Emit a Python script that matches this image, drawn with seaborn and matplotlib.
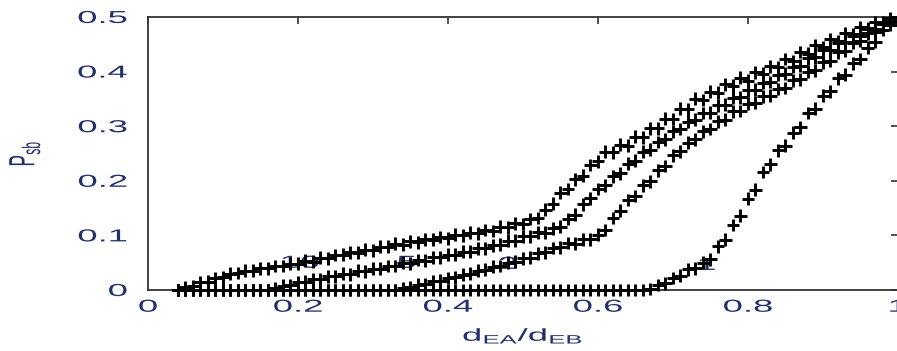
import numpy as np
import pandas as pd
import matplotlib
matplotlib.use("Agg")
import matplotlib.pyplot as plt
import matplotlib.patheffects as pe
from matplotlib.transforms import Affine2D
import seaborn as sns

# values
d_ratio = [0.04, 0.05, 0.06, 0.07, 0.08, 0.09, 0.10, 0.11, 0.12, 0.13,
           0.14, 0.15, 0.16, 0.17, 0.18, 0.19, 0.20, 0.21, 0.22, 0.23,
           0.24, 0.25, 0.26, 0.27, 0.28, 0.29, 0.30, 0.31, 0.32, 0.33,
           0.34, 0.35, 0.36, 0.37, 0.38, 0.39, 0.40, 0.41, 0.42, 0.43,
           0.44, 0.45, 0.46, 0.47, 0.48, 0.49, 0.50, 0.51, 0.52, 0.53,
           0.54, 0.55, 0.56, 0.57, 0.58, 0.59, 0.60, 0.61, 0.62, 0.63,
           0.64, 0.65, 0.66, 0.67, 0.68, 0.69, 0.70, 0.71, 0.72, 0.73,
           0.74, 0.75, 0.76, 0.77, 0.78, 0.79, 0.80, 0.81, 0.82, 0.83,
           0.84, 0.85, 0.86, 0.87, 0.88, 0.89, 0.90, 0.91, 0.92, 0.93,
           0.94, 0.95, 0.96, 0.97, 0.98, 0.99, 1.00]

p_10 = [0.000, 0.005, 0.007, 0.014, 0.015, 0.022, 0.023, 0.030, 0.031, 0.035,
        0.035, 0.040, 0.040, 0.044, 0.044, 0.048, 0.048, 0.054, 0.052, 0.059,
        0.058, 0.064, 0.065, 0.069, 0.068, 0.074, 0.073, 0.079, 0.079, 0.085,
        0.083, 0.089, 0.087, 0.093, 0.092, 0.097, 0.095, 0.101, 0.100, 0.105,
        0.104, 0.110, 0.108, 0.116, 0.115, 0.122, 0.121, 0.130, 0.132, 0.147,
        0.158, 0.178, 0.185, 0.203, 0.209, 0.229, 0.236, 0.253, 0.252, 0.266,
        0.264, 0.281, 0.280, 0.296, 0.296, 0.314, 0.313, 0.332, 0.331, 0.350,
        0.348, 0.363, 0.361, 0.377, 0.374, 0.389, 0.383, 0.399, 0.396, 0.410,
        0.408, 0.423, 0.419, 0.436, 0.433, 0.448, 0.445, 0.459, 0.456, 0.470,
        0.468, 0.481, 0.479, 0.490, 0.489, 0.498, 0.500]

p_5 = [0.0] * 13 + [
    0.003, 0.008, 0.009, 0.014, 0.015, 0.020, 0.020,
    0.025, 0.025, 0.030, 0.029, 0.035, 0.034, 0.039, 0.039, 0.044, 0.044,
    0.050, 0.049, 0.055, 0.054, 0.060, 0.060, 0.065, 0.065, 0.070, 0.070,
    0.076, 0.076, 0.082, 0.083, 0.090, 0.090, 0.098, 0.098, 0.106, 0.105,
    0.113, 0.116, 0.130, 0.138, 0.157, 0.168, 0.185, 0.192, 0.208, 0.214,
    0.231, 0.237, 0.253, 0.257, 0.271, 0.276, 0.291, 0.295, 0.308, 0.312,
    0.324, 0.325, 0.338, 0.339, 0.352, 0.353, 0.366, 0.367, 0.380, 0.381,
    0.394, 0.396, 0.409, 0.411, 0.424, 0.426, 0.439, 0.440, 0.453, 0.454,
    0.466, 0.466, 0.478, 0.478, 0.490, 0.492, 0.500]

p_2 = [0.0] * 30 + [
    0.003, 0.005, 0.010, 0.011, 0.016, 0.017, 0.022, 0.023, 0.028, 0.030,
    0.035, 0.037, 0.043, 0.044, 0.050, 0.052, 0.058, 0.059, 0.067, 0.069,
    0.077, 0.078, 0.086, 0.085, 0.093, 0.093, 0.101, 0.110, 0.132, 0.145,
    0.165, 0.172, 0.192, 0.199, 0.219, 0.227, 0.247, 0.254, 0.270, 0.276,
    0.291, 0.295, 0.309, 0.312, 0.327, 0.328, 0.341, 0.343, 0.355, 0.356,
    0.368, 0.370, 0.384, 0.386, 0.400, 0.402, 0.417, 0.420, 0.435, 0.438,
    0.453, 0.456, 0.470, 0.472, 0.487, 0.490, 0.500]

p_1 = [0.0] * 63 + [
    0.002, 0.009, 0.012, 0.022, 0.026, 0.038, 0.040,
    0.050, 0.056, 0.080, 0.092, 0.119, 0.136, 0.167, 0.184, 0.216, 0.230,
    0.256, 0.264, 0.288, 0.298, 0.324, 0.332, 0.356, 0.364, 0.388, 0.394,
    0.415, 0.423, 0.444, 0.455, 0.476, 0.486, 0.500]

curve_names = ["10", "5", "2", "1"]
curve_label_x = [0.203, 0.345, 0.48, 0.745]
curve_label_y = [0.049, 0.049, 0.047, 0.045]

x_ticks = [0, 0.2, 0.4, 0.6, 0.8, 1.0]
x_tick_labels = ["0", "0.2", "0.4", "0.6", "0.8", "1"]
y_ticks = [0, 0.1, 0.2, 0.3, 0.4, 0.5]
y_tick_labels = ["0", "0.1", "0.2", "0.3", "0.4", "0.5"]

NAVY = "#22306c"


class Stretch(pe.AbstractPathEffect):
    # the reference text looks stretched sideways, so widen the glyph paths
    def __init__(self, sx=1.0, sy=1.0, fx=0.5, fy=0.5):
        super().__init__()
        self.sx, self.sy, self.fx, self.fy = sx, sy, fx, fy

    def draw_path(self, renderer, gc, tpath, affine, rgbFace=None):
        ext = tpath.get_extents()
        cx = ext.x0 + self.fx * ext.width
        cy = ext.y0 + self.fy * ext.height
        pre = Affine2D().translate(-cx, -cy).scale(self.sx, self.sy).translate(cx, cy)
        renderer.draw_path(gc, tpath, pre + affine, rgbFace)


sns.set_style("white")
plt.rcParams["font.family"] = ["Liberation Sans", "DejaVu Sans"]
plt.rcParams["mathtext.default"] = "regular"

df = pd.DataFrame({
    "d": d_ratio * 4,
    "p": p_10 + p_5 + p_2 + p_1,
    "curve": sum([[n] * len(d_ratio) for n in curve_names], []),
})

fig = plt.figure(figsize=(8.97, 3.51), dpi=100)
ax = fig.add_axes([0.165, 0.1738, 0.836, 0.7778])

# curve labels sit under the markers, as in the reference
for name, lx, ly in zip(curve_names, curve_label_x, curve_label_y):
    ax.text(lx, ly, name, color=NAVY, fontsize=12.5, ha="center", va="center",
            zorder=1, path_effects=[Stretch(sx=2.1, fx=0.5)])

sns.scatterplot(data=df, x="d", y="p", hue="curve", palette=["black"] * 4,
                marker="+", s=85, linewidth=2.1, legend=False, ax=ax,
                zorder=3, clip_on=False)

ax.set_xlim(0, 1.0)
ax.set_ylim(0, 0.5)
ax.set_xticks(x_ticks)
ax.set_xticklabels(x_tick_labels)
ax.set_yticks(y_ticks)
ax.set_yticklabels(y_tick_labels)
ax.tick_params(direction="in", top=True, right=True, length=5, width=1.2,
               colors="#333333", labelcolor=NAVY, labelsize=12.5)
ax.tick_params(axis="x", pad=7)
ax.tick_params(axis="y", pad=15)
for lab in ax.get_xticklabels():
    lab.set_path_effects([Stretch(sx=2.1, fx=0.5)])
for lab in ax.get_yticklabels():
    lab.set_path_effects([Stretch(sx=2.1, fx=1.0)])

for side in ["left", "bottom", "top", "right"]:
    ax.spines[side].set_color("#333333")
    ax.spines[side].set_linewidth(1.3)

ax.set_xlabel(r"$d_{EA}/d_{EB}$", fontsize=12.5, color=NAVY)
ax.xaxis.set_label_coords(0.5, -0.135)
ax.xaxis.label.set_path_effects([Stretch(sx=2.1, fx=0.5)])
ax.set_ylabel(r"$P_{sb}$", fontsize=12.5, color=NAVY)
ax.yaxis.set_label_coords(-0.152, 0.5)
ax.yaxis.label.set_path_effects([Stretch(sy=2.1, fy=0.5)])

fig.savefig("out.png", dpi=100)
